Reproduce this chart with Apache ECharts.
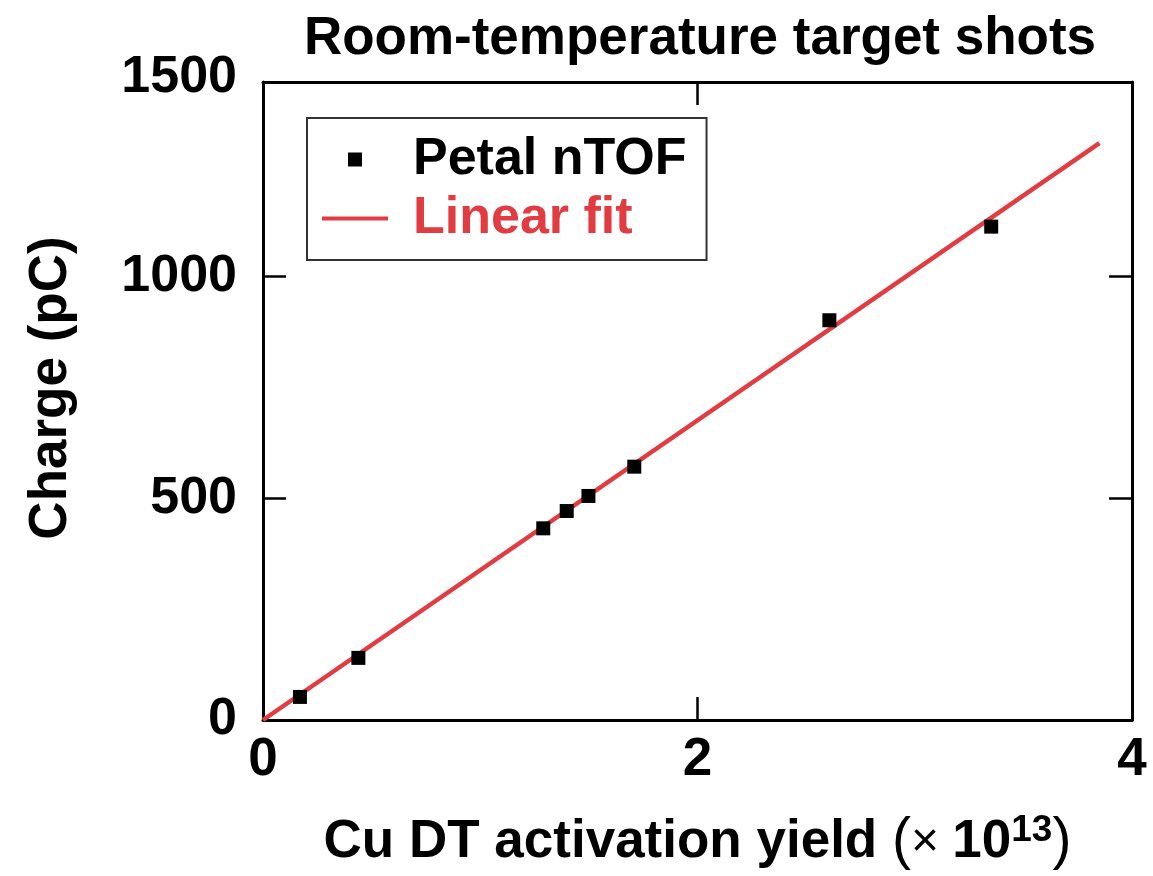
<!DOCTYPE html>
<html>
<head>
<meta charset="utf-8">
<script src="https://cdn.jsdelivr.net/npm/echarts@6/dist/echarts.min.js"></script>
<style>
  html, body { margin: 0; padding: 0; background: #fff; }
  #chart { width: 1153px; height: 876px; }
</style>
</head>
<body>
<div id="chart"></div>
<script>
// ---- data ----
const titleText = 'Room-temperature target shots';
const xName = 'Cu DT activation yield';
const yName = 'Charge (pC)';
const seriesNames = ['Petal nTOF', 'Linear fit'];

const yieldE13 = [0.170, 0.439, 1.290, 1.398, 1.498, 1.709, 2.607, 3.352];
const chargePC = [52, 140, 432, 471, 505, 571, 901, 1112];

const fitX = [0, 3.85];
const fitY = [0, 1300];

const xMin = 0, xMax = 4, xInterval = 2;
const yMin = 0, yMax = 1438, yInterval = 500;
const yTickValues = [0, 500, 1000, 1438];
const yTickLabels = ['0', '500', '1000', '1500'];

// ---- build chart ----
const RED = '#e03c41';
const FONT = '"Liberation Sans", Arial, Helvetica, sans-serif';

const scatterData = yieldE13.map((x, i) => [x, chargePC[i]]);
const fitData = fitX.map((x, i) => [x, fitY[i]]);

const axisLine = { show: true, onZero: false, lineStyle: { color: '#000', width: 3 } };
const tick = { show: true, inside: true, length: 23, lineStyle: { color: '#000', width: 2.5 } };

const chart = echarts.init(document.getElementById('chart'), null, { renderer: 'canvas' });
chart.setOption({
  animation: false,
  backgroundColor: '#fff',
  textStyle: { fontFamily: FONT },
  title: {
    text: titleText,
    left: 695,
    textAlign: 'center',
    top: 8,
    textStyle: { fontFamily: FONT, fontWeight: 'bold', fontSize: 53, color: '#000' }
  },
  grid: { left: 263, right: 21, top: 82, bottom: 154, containLabel: false },
  legend: {
    orient: 'vertical',
    left: 307,
    top: 118,
    itemWidth: 66,
    itemHeight: 14,
    itemGap: 0,
    symbolKeepAspect: true,
    padding: [12, 20, 12, 15],
    borderColor: '#333',
    borderWidth: 2,
    selectedMode: false,
    textStyle: { fontFamily: FONT, fontWeight: 'bold', fontSize: 52, color: '#000', padding: [0, 0, 0, 20], lineHeight: 59 },
    data: [
      { name: seriesNames[0], icon: 'path://M0,0L10,0L10,10L0,10Z', itemStyle: { color: '#000', opacity: 1 } },
      { name: seriesNames[1], icon: 'path://M0,0L66,0L66,4L0,4Z', itemStyle: { color: RED }, textStyle: { color: RED } }
    ]
  },
  xAxis: [
    {
      type: 'value', position: 'bottom', min: xMin, max: xMax, interval: xInterval,
      axisLine, axisTick: tick, splitLine: { show: false },
      axisLabel: { margin: 14, fontFamily: FONT, fontWeight: 'bold', fontSize: 53, color: '#000' },
      name: '{b|' + xName + ' }{p|(}{m|\u00d7 }{b|10}{s|13}{p|)}',
      nameLocation: 'middle',
      nameGap: 92,
      nameTextStyle: {
        rich: {
          b: { fontFamily: FONT, fontWeight: 'bold', fontSize: 53, color: '#000' },
          p: { fontFamily: FONT, fontWeight: 'normal', fontSize: 57, color: '#000' },
          m: { fontFamily: FONT, fontWeight: 'normal', fontSize: 48, color: '#000' },
          s: { fontFamily: FONT, fontWeight: 'bold', fontSize: 37, color: '#000', padding: [0, 0, 24, 0] }
        }
      }
    },
    {
      type: 'value', position: 'top', min: xMin, max: xMax, interval: xInterval,
      axisLine, axisTick: tick, axisLabel: { show: false }, splitLine: { show: false }
    }
  ],
  yAxis: [
    {
      type: 'value', position: 'left', min: yMin, max: yMax, interval: yInterval,
      axisLine, axisTick: Object.assign({}, tick, { customValues: [500, 1000] }),
      splitLine: { show: false },
      axisLabel: {
        customValues: yTickValues,
        margin: 26,
        fontFamily: FONT, fontWeight: 'bold', fontSize: 52, color: '#000',
        formatter: function (v) {
          const i = yTickValues.indexOf(v);
          const t = i >= 0 ? yTickLabels[i] : String(v);
          return v === yMax ? '{up|' + t + '}' : t;
        },
        rich: { up: { fontFamily: FONT, fontWeight: 'bold', fontSize: 52, color: '#000', padding: [0, 0, 8, 0] } }
      },
      name: yName,
      nameLocation: 'middle',
      nameRotate: 90,
      nameGap: 185,
      nameTextStyle: { fontFamily: FONT, fontWeight: 'bold', fontSize: 53, color: '#000', padding: [0, 0, 0, 26] }
    },
    {
      type: 'value', position: 'right', min: yMin, max: yMax, interval: yInterval,
      axisLine, axisTick: Object.assign({}, tick, { customValues: [500, 1000] }),
      axisLabel: { show: false }, splitLine: { show: false }
    }
  ],
  series: [
    {
      name: seriesNames[0], type: 'scatter', data: scatterData,
      symbol: 'rect', symbolSize: 14, itemStyle: { color: '#000', opacity: 1 }, z: 5
    },
    {
      name: seriesNames[1], type: 'line', data: fitData,
      showSymbol: false, symbol: 'none',
      lineStyle: { color: RED, width: 4.5 }, itemStyle: { color: RED }, z: 3
    }
  ]
});
</script>
</body>
</html>
